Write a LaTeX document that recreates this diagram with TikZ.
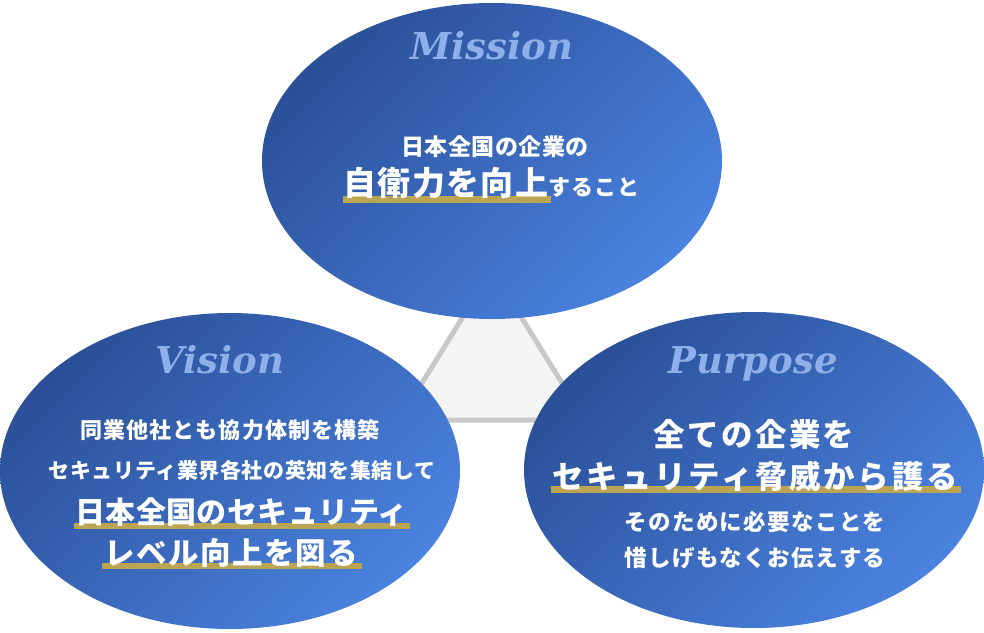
\documentclass[tikz,border=0pt]{standalone}
\usepackage{fontspec}
\usetikzlibrary{shapes.geometric}
\newfontfamily\jp{Noto Sans CJK JP}
\newfontfamily\titlefont{DejaVu Serif}
\newcommand\jpf[2]{\jp\bfseries\fontsize{#1}{#1}\selectfont\addfontfeature{LetterSpace=#2}}
\definecolor{bluedark}{HTML}{2B5098}
\definecolor{bluelight}{HTML}{4A82DF}
\definecolor{titleblue}{HTML}{8DB0EA}
\definecolor{gold}{HTML}{BBA452}
\definecolor{trifill}{HTML}{F4F4F4}
\definecolor{triline}{HTML}{C8C8C8}
\tikzset{
  blob/.style={ellipse, minimum width=460pt, minimum height=316pt, inner sep=0pt,
    shading=axis, top color=bluedark, bottom color=bluelight, shading angle=45},
  ttl/.style={anchor=base, inner sep=0pt, text=titleblue,
    font=\titlefont\bfseries\itshape\fontsize{37}{37}\selectfont},
  jt/.style={anchor=base, inner sep=0pt, text=white},
  goldbar/.style={fill=gold, draw=none},
  tri/.style={fill=trifill, draw=triline, line width=5pt, line join=miter}
}
\begin{document}
\begin{tikzpicture}[x=1pt, y=-1pt]
\useasboundingbox (0,0) rectangle (984,632);
% triangle behind
\coordinate (ta) at (492,270);
\coordinate (tb) at (399,420);
\coordinate (tc) at (585,420);
\draw[tri] (ta) -- (tb) -- (tc) -- cycle;
% ellipses
\node[blob] (mission) at (492,161) {};
\node[blob] (vision) at (230,471) {};
\node[blob] (purpose) at (754,470) {};
% titles
\node[ttl] (mt) at (492,59) {Mission};
\node[ttl] (vt) at (220,373) {Vision};
\node[ttl] (pt) at (753,373) {Purpose};
% underlines
\fill[goldbar] (343,196) rectangle (551,203);
\fill[goldbar] (74,523) rectangle (410,529);
\fill[goldbar] (102,563) rectangle (362,569);
\fill[goldbar] (551,486) rectangle (961,493);
% mission text
\node[jt, font=\jpf{23}{2}] (m1) at (495,155) {日本全国の企業の};
\node[jt] (m2) at (491.5,195) {{\jpf{33}{4}自衛力を向上}{\jpf{22}{5}すること}};
% vision text
\node[jt, font=\jpf{22}{5}] (v1) at (230,438) {同業他社とも協力体制を構築};
\node[jt, font=\jpf{21}{3}] (v2) at (242,478) {セキュリティ業界各社の英知を集結して};
\node[jt, font=\jpf{30}{1.5}] (v3) at (241.5,523) {日本全国のセキュリティ};
\node[jt, font=\jpf{30.5}{4.5}] (v4) at (231.5,564) {レベル向上を図る};
% purpose text
\node[jt, font=\jpf{31.5}{7.5}] (p1) at (754,446) {全ての企業を};
\node[jt, font=\jpf{31.5}{8.5}] (p2) at (755,488) {セキュリティ脅威から護る};
\node[jt, font=\jpf{22.5}{6}] (p3) at (755,530) {そのために必要なことを};
\node[jt, font=\jpf{22.5}{6}] (p4) at (755,566) {惜しげもなくお伝えする};
\end{tikzpicture}
\end{document}
